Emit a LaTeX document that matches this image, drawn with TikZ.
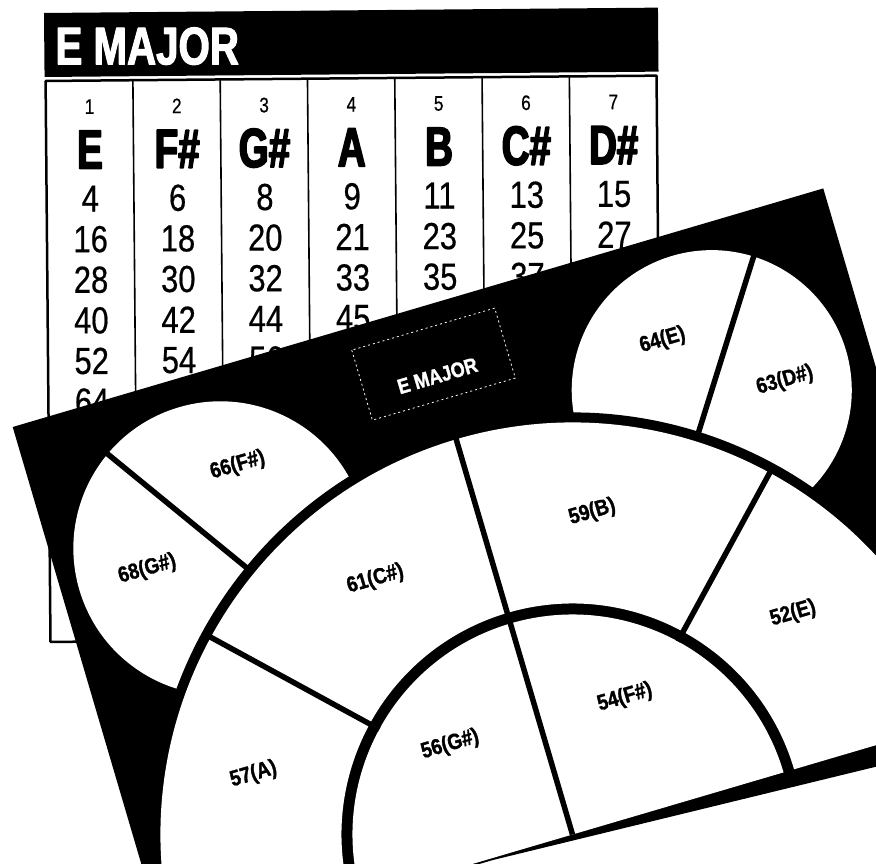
\documentclass[tikz,border=0pt]{standalone}
\usepackage{fontspec}
\setmainfont{Liberation Sans}
\newfontfamily\condfont[FakeStretch=0.82,FakeBold=0.5]{Liberation Sans}
\newfontfamily\blackfont[FakeStretch=0.7,FakeBold=3,UprightFont=* Bold]{Liberation Sans}
\newfontfamily\headfont[FakeStretch=0.76,FakeBold=2,UprightFont=* Bold]{Liberation Sans}
\newfontfamily\padfont[FakeStretch=0.86,FakeBold=1.5,UprightFont=* Bold]{Liberation Sans}
\tikzset{
  degnum/.style={font=\condfont\fontsize{21}{21}\selectfont, inner sep=0pt},
  notename/.style={font=\blackfont\fontsize{55}{55}\selectfont, inner sep=0pt},
  keynum/.style={font=\condfont\fontsize{37.7}{38}\selectfont, inner sep=0pt},
  headtitle/.style={font=\headfont\fontsize{53}{53}\selectfont, text=white, inner sep=0pt, text depth=0pt},
  padlabel/.style={font=\padfont\fontsize{22}{22}\selectfont, inner sep=0pt, text height=16pt, text depth=0pt, transform shape},
  divider/.style={line width=5.5pt},
}
\begin{document}
\begin{tikzpicture}[x=1pt, y=1pt, line join=round]
\useasboundingbox (0,0) rectangle (876,863);
\clip (0,0) rectangle (876,863);
\fill[white] (0,0) rectangle (876,863);
% key table behind the pad
\begin{scope}[shift={(44,850)}, rotate=0.5]
  \fill (0,0) rectangle (614,-64);
  \node[headtitle, anchor=west] (title) at (11,-33) {E MAJOR};
  \draw[line width=2.5pt] (1,-68) rectangle (612,-629);
  \foreach \i in {1,...,6}
    \draw[line width=1.6pt] ({1+87.3*\i},-68) -- ({1+87.3*\i},-629);
  \foreach \c/\note/\nums in {1/E/{4,16,28,40,52,64}, 2/F\#/{6,18,30,42,54},
      3/G\#/{8,20,32,44,56}, 4/A/{9,21,33,45}, 5/B/{11,23,35},
      6/C\#/{13,25,37}, 7/D\#/{15,27}}{
    \node[degnum] (deg\c) at ({87.3*\c-42.6},-94) {\c};
    \node[notename] (note\c) at ({87.3*\c-42.6},-137) {\note};
    \foreach \n [count=\r from 0] in \nums
      \node[keynum] (key\c-\r) at ({87.3*\c-42.6},{-186-40.6*\r}) {\n};
  }
\end{scope}
% pad, origin at the centre of the half circles
\begin{scope}[shift={(572.5,28.5)}, rotate=16.4]
  \fill (-422,549) -- (423,549) -- (423,-26) -- (-84,-2) -- (-422,-2) -- cycle;
  \draw[white, line width=0.8pt, dash pattern=on 2pt off 3pt] (-75,527) rectangle (74,454);
  \node[padlabel, text=white, font=\padfont\fontsize{21}{21}\selectfont] (padtitle) at (0,479) {E MAJOR};
  % small pads
  \fill[white] (56.2:465.7) circle[radius=140];
  \fill[white] (124.5:453.8) circle[radius=147];
  \fill (422,0) arc[start angle=0, end angle=180, radius=422] -- cycle;
  % ring and inner half
  \fill[white] (412,0) arc[start angle=0, end angle=180, radius=412]
    -- (-231,0) arc[start angle=180, end angle=0, radius=231] -- cycle;
  \fill[white] (220,0) arc[start angle=0, end angle=180, radius=220] -- cycle;
  \foreach \ang/\from in {45/220, 90/0, 135/220}
    \draw[divider] (\ang:\from) -- (\ang:414);
  \draw[divider] (56.2:420) -- (56.2:610);
  \draw[divider] (124.3:420) -- (124.3:605);
  % pad labels
  \node[padlabel] (p66) at (-217,451) {66(F\#)};
  \node[padlabel] (p68) at (-333,377) {68(G\#)};
  \node[padlabel] (p64) at (226,451) {64(E)};
  \node[padlabel] (p63) at (332,378) {63(D\#)};
  \node[padlabel] (p61) at (-117,303) {61(C\#)};
  \node[padlabel] (p59) at (110,306) {59(B)};
  \node[padlabel] (p57) at (-289,150) {57(A)};
  \node[padlabel] (p52) at (274,152) {52(E)};
  \node[padlabel] (p56) at (-92,123) {56(G\#)};
  \node[padlabel] (p54) at (89,119) {54(F\#)};
\end{scope}
\end{tikzpicture}
\end{document}
